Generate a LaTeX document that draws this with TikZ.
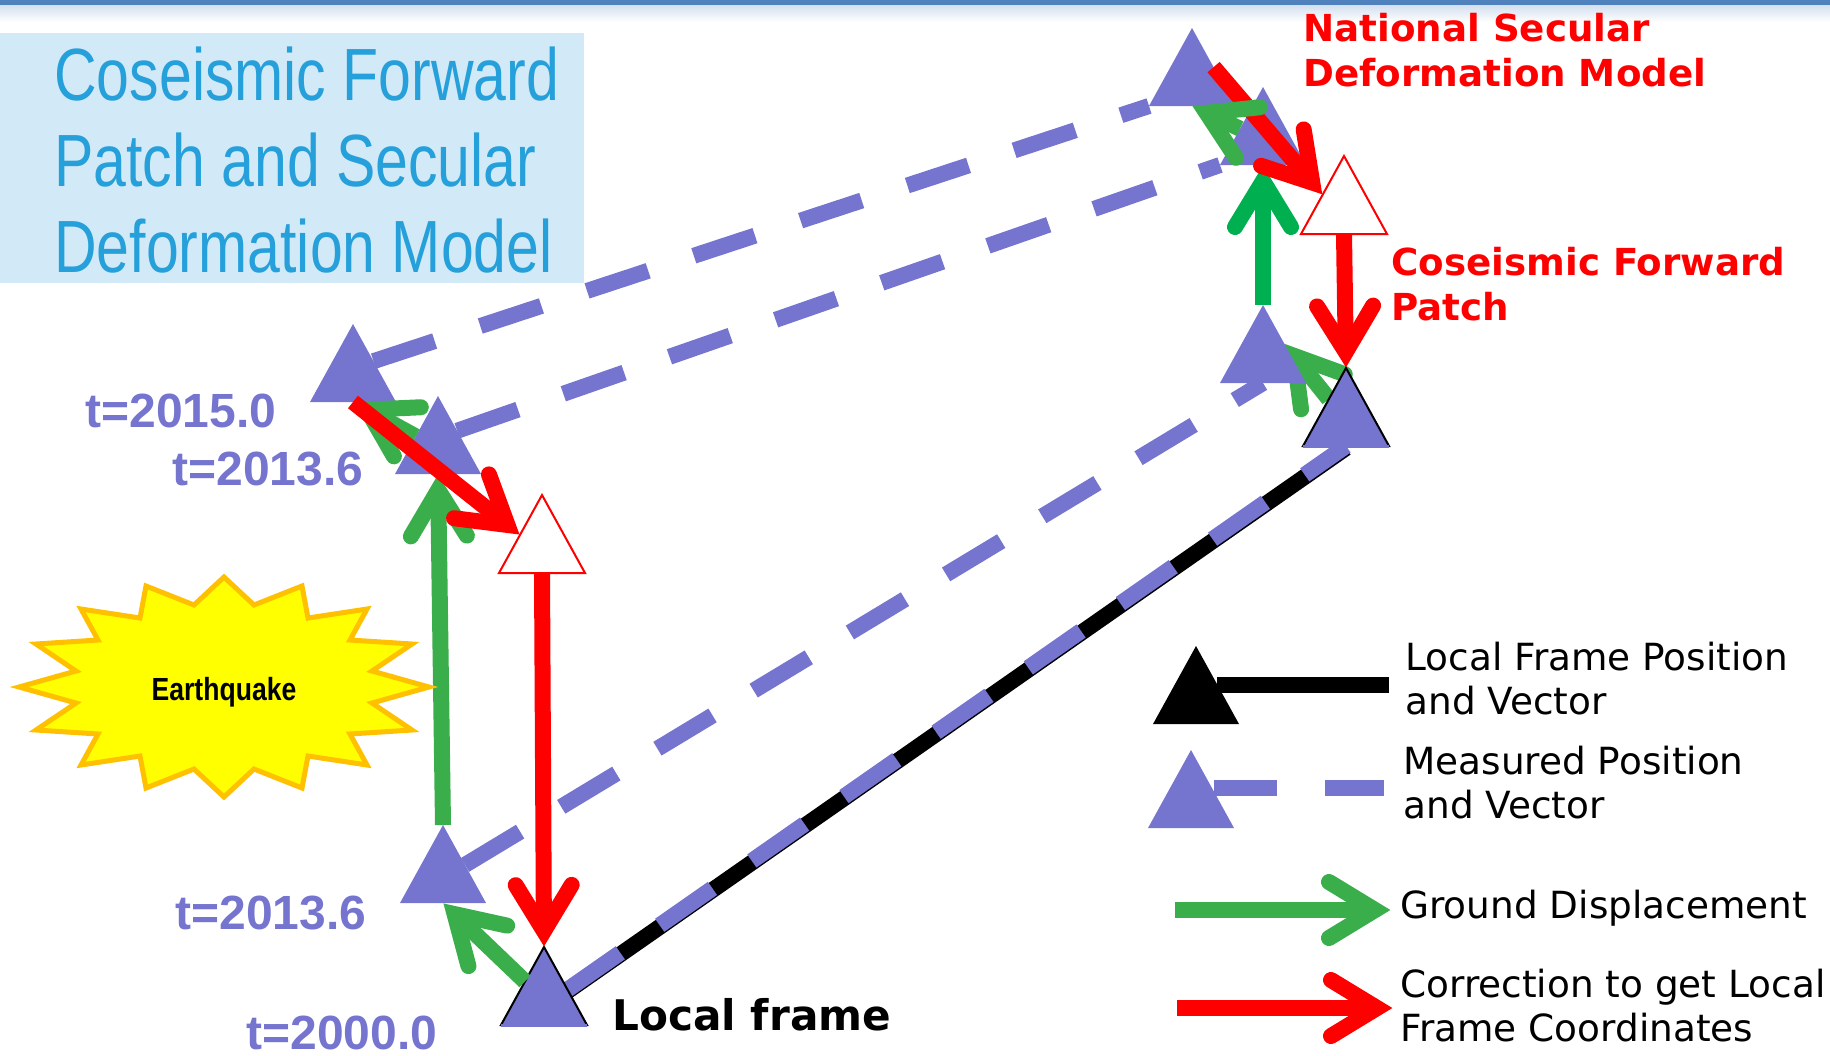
\documentclass[tikz,border=0pt]{standalone}
\usepackage{fontspec}
\usepackage{xcolor}
\usepackage{tikz}
\usetikzlibrary{shapes.geometric,backgrounds,calc}
\setmainfont{DejaVu Sans}
\newfontfamily\titlefont[FakeStretch=0.797]{Liberation Sans}
\newfontfamily\arialbold{Liberation Sans Bold}
\newfontfamily\quakefont[FakeStretch=0.83]{Liberation Sans Bold}
\definecolor{Violet}{HTML}{7575CF}
\definecolor{Leaf}{HTML}{39AE4A}
\definecolor{Grass}{HTML}{00B050}
\definecolor{Sky}{HTML}{D2EAF7}
\definecolor{Ocean}{HTML}{26A0DA}
\definecolor{Band}{HTML}{4F81BD}
\definecolor{Amber}{HTML}{FFC000}
\definecolor{Sun}{RGB}{255,255,0}
\pgfdeclarearrow{
  name=Vhead,
  setup code={\pgfarrowssettipend{0pt}\pgfarrowssetlineend{-10pt}},
  drawing code={
    \pgfsetlinewidth{8pt}\pgfsetroundcap\pgfsetmiterjoin
    \pgfpathmoveto{\pgfqpoint{-31pt}{14pt}}
    \pgfpathlineto{\pgfqpoint{-8pt}{0pt}}
    \pgfpathlineto{\pgfqpoint{-31pt}{-14pt}}
    \pgfusepathqstroke
  }
}

\begin{document}
\begin{tikzpicture}[x=0.5pt,y=-0.5pt,
    tri/.style={isosceles triangle,isosceles triangle apex angle=58,isosceles triangle stretches,
      shape border rotate=90,minimum width=43pt,minimum height=39pt,inner sep=0pt,outer sep=0pt,
      anchor=apex,fill=Violet},
    hol/.style={tri,fill=white,draw=red,line width=1pt},
    frm/.style={tri,draw=black,line width=1pt},
    gr/.style={-Vhead,line width=8pt,draw=Leaf},
    rd/.style={-Vhead,line width=8pt,draw=red},
    dsh/.style={line width=8pt,draw=Violet,dash pattern=on 32.2pt off 24pt},
    lab/.style={font=\fontsize{18.7}{22}\selectfont,align=left,anchor=base west,inner sep=0pt},
    redlab/.style={font=\fontsize{18.6}{22.5}\selectfont\bfseries,text=red,align=left,anchor=base west,inner sep=0pt},
    tlab/.style={font=\fontsize{24}{28}\arialbold,text=Violet,anchor=base west,inner sep=0pt}]
  \useasboundingbox (0,0) rectangle (1830,1055);
  % top band
  \shade[top color=Band!25,bottom color=white] (0,5) rectangle (1830,22);
  \fill[Band] (0,0) rectangle (1830,5);
  % title
  \node[fill=Sky,minimum width=292pt,minimum height=125pt,inner sep=0pt,anchor=north west] (titlebox) at (0,33) {};
  \node[font=\fontsize{37}{43}\titlefont,text=Ocean,align=left,anchor=base west,inner sep=0pt] (title) at (54,272)
    {Coseismic Forward\\Patch and Secular\\Deformation Model};
  % earthquake
  \begin{scope}[shift={(224,687)}]
    \draw[fill=Sun,draw=Amber,line width=2.5pt] (0,-110)--(30,-82)--(78,-101)--(84,-69)--(143,-78)--(126,-47)--(188,-43)
      --(148,-16)--(205,0)--(148,16)--(188,43)--(126,47)--(143,78)--(84,69)--(78,101)--(30,82)--(0,110)
      --(-30,82)--(-78,101)--(-84,69)--(-143,78)--(-126,47)--(-188,43)--(-148,16)--(-205,0)--(-148,-16)
      --(-188,-43)--(-126,-47)--(-143,-78)--(-84,-69)--(-78,-101)--(-30,-82)--cycle;
  \end{scope}
  \node[font=\fontsize{16}{18}\quakefont,anchor=base,inner sep=0pt] (quake) at (224,700) {Earthquake};
  % stations left
  \node[tri] (surv15L) at (353,324) {};
  \node[tri] (surv13L) at (438,396) {};
  \node[hol] (holL) at (542,495) {};
  \node[tri] (mark13L) at (443,825) {};
  \node[frm] (frameL) at (544,947) {};
  \draw[Violet,line width=1.5pt] (frameL.left corner) -- (frameL.right corner);
  % stations right
  \node[tri] (surv15R) at (1192,28) {};
  \node[tri] (surv13R) at (1263,87) {};
  \node[hol] (holR) at (1344,156) {};
  \node[tri] (markR) at (1263,305) {};
  \node[frm] (frameR) at (1346,368) {};
  \draw[Violet,line width=1.5pt] (frameR.left corner) -- (frameR.right corner);
  % vectors under the stations
  \begin{scope}[on background layer]
    \draw[line width=8pt,draw=black] ([xshift=-1pt,yshift=-1.5pt]frameL.23) -- ([yshift=-1pt]frameR.south);
    \draw[dsh] (surv15L.37) -- (surv15R.left corner);
    \draw[dsh] (surv13L.43) -- (surv13R.left corner);
    \draw[dsh] (mark13L.30) -- (markR.south);
    \draw[dsh] (frameL.23) -- (frameR.south);
    \draw[gr] (mark13L.apex) -- (surv13L.south);
    \draw[gr,draw=Grass] (markR.apex) -- (surv13R.south);
    \draw[gr] (frameR) -- (markR.34);
  \end{scope}
  \draw[gr] (frameL) -- (mark13L.south);
  \draw[gr] (surv13L) -- (surv15L.south);
  \draw[rd] (surv15L.south) -- (holL.150);
  \draw[rd] (holL.south) -- (frameL.apex);
  \draw[rd] (surv15R.32) -- (holR.147);
  \draw[rd] (holR.south) -- (frameR.apex);
  \draw[gr] (surv13R) -- (surv15R.south);
  % labels
  \node[redlab] (natlab) at (1303,86) {National Secular\\Deformation Model};
  \node[redlab] (coslab) at (1391,320) {Coseismic Forward\\Patch};
  \node[tlab] (t15) at (85,427) {t=2015.0};
  \node[tlab] (t13a) at (172,485) {t=2013.6};
  \node[tlab] (t13b) at (175,929) {t=2013.6};
  \node[tlab] (t00) at (246,1049) {t=2000.0};
  \node[font=\fontsize{21.1}{24}\selectfont\bfseries,anchor=base west,inner sep=0pt] (framelab) at (612,1030) {Local frame};
  % legend
  \node[tri,fill=black] (legblk) at (1196,646) {};
  \node[tri] (legvio) at (1191,750) {};
  \coordinate (legblkend) at (1389,684.5);
  \coordinate (legvioend) at (1384,788);
  \coordinate (leggr1) at (1175,910);
  \coordinate (leggr2) at (1391,910);
  \coordinate (legrd1) at (1177,1008);
  \coordinate (legrd2) at (1393,1008);
  \draw[line width=8pt,shorten <=-4pt] (legblk.east |- legblkend) -- (legblkend);
  \draw[dsh,dash pattern=on 31.5pt off 24pt,shorten <=-3pt] (legvio.east |- legvioend) -- (legvioend);
  \draw[gr] (leggr1) -- (leggr2);
  \draw[rd] (legrd1) -- (legrd2);
  \node[lab] (leg1) at (1405,714) {Local Frame Position\\and Vector};
  \node[lab] (leg2) at (1403,818) {Measured Position\\and Vector};
  \node[lab] (leg3) at (1400,918) {Ground Displacement};
  \node[lab] (leg4) at (1400,1041) {Correction to get Local\\Frame Coordinates};
\end{tikzpicture}
\end{document}
